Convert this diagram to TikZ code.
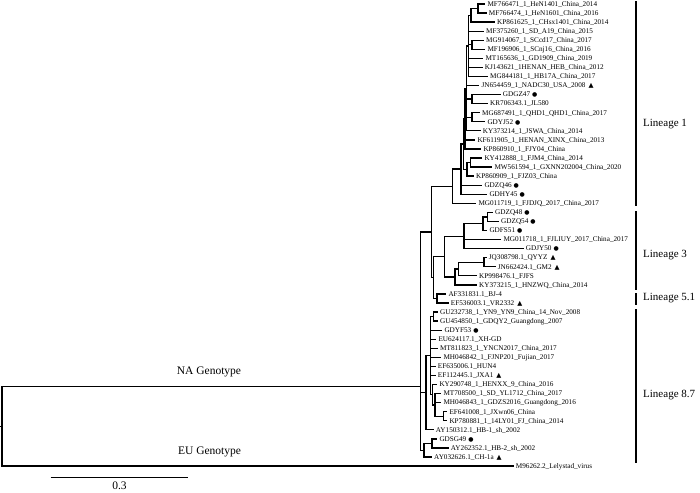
\documentclass[tikz,border=0pt]{standalone}
\usepackage{fontspec}
\setmainfont{Liberation Serif}
\newfontfamily\symfont{DejaVu Sans}
\newcommand\dotmark{\hspace{2pt}{\symfont\fontsize{6}{6}\selectfont ●}}
\newcommand\trimark{\hspace{3pt}{\symfont\fontsize{6.5}{6}\selectfont ▲}}
\tikzset{
 leaf/.style={anchor=west, inner xsep=2.5pt, inner ysep=0pt, font=\fontsize{7.2}{8}\selectfont, text height=5.2pt, text depth=0.6pt},
 br/.style={line width=1.3pt, line cap=rect},
 barline/.style={line width=1.5pt},
 lin/.style={anchor=west, font=\fontsize{11}{13}\selectfont, inner sep=0pt},
 geno/.style={font=\fontsize{11.5}{13}\selectfont, inner sep=0pt}
}
\begin{document}
\begin{tikzpicture}[x=1pt,y=-1pt]
\useasboundingbox (0,0) rectangle (700,492);
\foreach \n/\x/\t in {
1/484.8/MF766471\_1\_HeN1401\_China\_2014,
2/486.2/MF766474\_1\_HeN1601\_China\_2016,
3/494.5/KP861625\_1\_CHsx1401\_China\_2014,
4/483.5/MF375260\_1\_SD\_A19\_China\_2015,
5/483.5/MG914067\_1\_SCcd17\_China\_2017,
6/484.8/MF196906\_1\_SCnj16\_China\_2016,
7/482.8/MT165636\_1\_GD1909\_China\_2019,
8/482.2/KJ143621\_1HENAN\_HEB\_China\_2012,
9/487.5/MG844181\_1\_HB17A\_China\_2017,
10/478.8/JN654459\_1\_NADC30\_USA\_2008\trimark,
11/500.2/GDGZ47\dotmark,
12/487.5/KR706343.1\_JL580,
13/479.5/MG687491\_1\_QHD1\_QHD1\_China\_2017,
14/484.8/GDYJ52\dotmark,
15/480.2/KY373214\_1\_JSWA\_China\_2014,
16/474.8/KF611905\_1\_HENAN\_XINX\_China\_2013,
17/480.8/KP860910\_1\_FJY04\_China,
18/481.8/KY412888\_1\_FJM4\_China\_2014,
19/491.8/MW561594\_1\_GXNN202004\_China\_2020,
20/473.5/KP860909\_1\_FJZ03\_China,
21/481.8/GDZQ46\dotmark,
22/486.8/GDHY45\dotmark,
23/475.8/MG011719\_1\_FJDJQ\_2017\_China\_2017,
24/492.5/GDZQ48\dotmark,
25/498.5/GDZQ54\dotmark,
26/486.8/GDFS51\dotmark,
27/500.8/MG011718\_1\_FJLIUY\_2017\_China\_2017,
28/523.2/GDJY50\dotmark,
29/486.2/JQ308798.1\_QYYZ\trimark,
30/495.2/JN662424.1\_GM2\trimark,
31/476.5/KP998476.1\_FJFS,
32/476.5/KY373215\_1\_HNZWQ\_China\_2014,
33/445.8/AF331831.1\_BJ-4,
34/448.2/EF536003.1\_VR2332\trimark,
35/437.5/GU232738\_1\_YN9\_YN9\_China\_14\_Nov\_2008,
36/437.5/GU454850\_1\_GDQY2\_Guangdong\_2007,
37/441.8/GDYF53\dotmark,
38/435.8/EU624117.1\_XH-GD,
39/437.5/MT811823\_1\_YNCN2017\_China\_2017,
40/440.8/MH046842\_1\_FJNP201\_Fujian\_2017,
41/435.2/EF635006.1\_HUN4,
42/435.2/EF112445.1\_JXA1\trimark,
43/436.8/KY290748\_1\_HENXX\_9\_China\_2016,
44/440.8/MT708500\_1\_SD\_YL1712\_China\_2017,
45/440.8/MH046843\_1\_GDZS2016\_Guangdong\_2016,
46/446.8/EF641008\_1\_JXwn06\_China,
47/446.8/KP780881\_1\_14LY01\_FJ\_China\_2014,
48/433.2/AY150312.1\_HB-1\_sh\_2002,
49/436.8/GDSG49\dotmark,
50/448.2/AY262352.1\_HB-2\_sh\_2002,
51/431.5/AY032626.1\_CH-1a\trimark,
52/513.2/M96262.2\_Lelystad\_virus}
  \node[leaf] (l\n) at (\x,{4+9.06*(\n-1)}) {\t};
% internal nodes
\coordinate (na) at (478,8.53);
\coordinate (nb) at (471,15.33);
\coordinate (nc) at (472,44.77);
\coordinate (nd) at (472,99.13);
\coordinate (ne) at (472,117.25);
\coordinate (ns1) at (468.5,45.91);
\coordinate (ns2) at (466.5,88.38);
\coordinate (ns3) at (465,118.67);
\coordinate (nf) at (470.5,162.55);
\coordinate (ng) at (467,169.35);
\coordinate (ns4) at (463.5,144.01);
\coordinate (nh) at (461,169.14);
\coordinate (Lone) at (452.7,186.23);
\coordinate (ma) at (487.5,216.91);
\coordinate (mb) at (483,223.71);
\coordinate (mc) at (464,236.16);
\coordinate (ka) at (484,262.21);
\coordinate (kb) at (458.5,269.01);
\coordinate (kc) at (455,276.93);
\coordinate (Lthree) at (444.5,256.55);
\coordinate (Lfive) at (437,298.45);
\coordinate (Ltf) at (433.5,277.5);
\coordinate (Lott) at (431.7,231.87);
\coordinate (qa) at (433.5,316.57);
\coordinate (qc) at (443.3,416.23);
\coordinate (qd) at (435,404.9);
\coordinate (qe) at (432.5,394.71);
\coordinate (qs) at (430.5,355.64);
\coordinate (Leight) at (426,392.73);
\coordinate (pa) at (432,443.41);
\coordinate (pb) at (424,450.21);
\coordinate (NA) at (420.7,386.7);
\coordinate (root) at (2,426.4);
\coordinate (stub) at (0,426.4);
\foreach \p/\c in {na/l1.west,na/l2.west,nb/na,nb/l3.west,nc/l5.west,nc/l6.west,
 nd/l11.west,nd/l12.west,ne/l13.west,ne/l14.west,
 ns1/nb,ns1/l4.west,ns1/nc,ns1/l7.west,ns1/l8.west,ns1/l9.west,
 ns2/ns1,ns2/l10.west,ns2/nd,ns2/ne,ns2/l15.west,
 ns3/ns2,ns3/l16.west,ns3/l17.west,
 nf/l18.west,nf/l19.west,ng/nf,ng/l20.west,ns4/ns3,ns4/ng,
 nh/ns4,nh/l21.west,nh/l22.west,Lone/nh,Lone/l23.west,
 ma/l24.west,ma/l25.west,mb/ma,mb/l26.west,mc/mb,mc/l27.west,mc/l28.west,
 ka/l29.west,ka/l30.west,kb/ka,kb/l31.west,kc/kb,kc/l32.west,
 Lthree/mc,Lthree/kc,Lfive/l33.west,Lfive/l34.west,Ltf/Lthree,Ltf/Lfive,
 Lott/Lone,Lott/Ltf,
 qa/l35.west,qa/l36.west,qc/l46.west,qc/l47.west,
 qd/l44.west,qd/l45.west,qd/qc,qe/l43.west,qe/qd,
 qs/qa,qs/l37.west,qs/l38.west,qs/l39.west,qs/l40.west,qs/l41.west,qs/l42.west,qs/qe,
 Leight/qs,Leight/l48.west,pa/l49.west,pa/l50.west,pb/pa,pb/l51.west,
 NA/Lott,NA/Leight,NA/pb,root/NA,root/l52.west}
  \draw[br] (\p) |- (\c);
\draw[br] (root) -- (stub);
% lineage bars
\coordinate (b1t) at (636,1.5); \coordinate (b1b) at (636,206);
\coordinate (b3t) at (636,211); \coordinate (b3b) at (636,290);
\coordinate (b5t) at (636,293); \coordinate (b5b) at (636,305);
\coordinate (b8t) at (636,309); \coordinate (b8b) at (636,463);
\draw[barline] (b1t) -- (b1b);
\draw[barline] (b3t) -- (b3b);
\draw[barline] (b5t) -- (b5b);
\draw[barline] (b8t) -- (b8b);
\node[lin] (lab1) at (643,124) {Lineage 1};
\node[lin] (lab3) at (643,255) {Lineage 3};
\node[lin] (lab5) at (643,298.5) {Lineage 5.1};
\node[lin] (lab8) at (643,395) {Lineage 8.7};
% genotype labels
\node[geno] (nag) at (209,372) {NA Genotype};
\node[geno] (eug) at (209.5,452) {EU Genotype};
% scale bar
\coordinate (sa) at (50.7,477);
\coordinate (sb) at (187.7,477);
\draw[line width=1pt] (sa) -- (sb);
\node[geno] (sc) at (119.5,485.5) {0.3};
\end{tikzpicture}
\end{document}
